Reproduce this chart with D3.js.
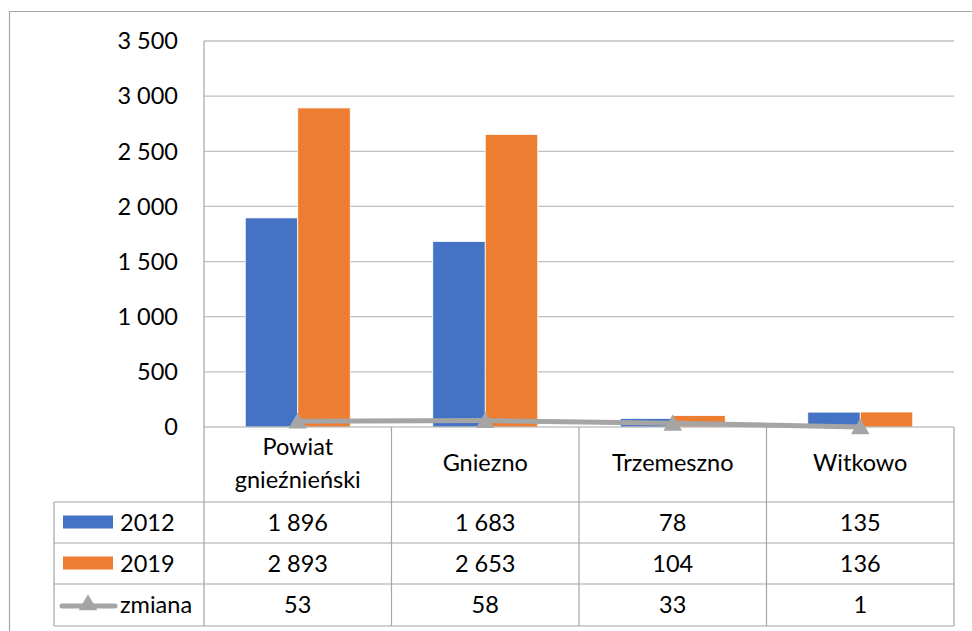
<!DOCTYPE html>
<html><head><meta charset="utf-8">
<script src="https://cdn.jsdelivr.net/npm/d3@7"></script>
<style>body{margin:0;background:#fff}svg{display:block}text{font-family:Lato,"Open Sans",sans-serif;fill:#000}</style>
</head><body>
<svg id="c" width="972" height="631"></svg>
<script>
const categories = ["Powiat gnieźnieński", "Gniezno", "Trzemeszno", "Witkowo"];
const categoryLines = [["Powiat", "gnieźnieński"], ["Gniezno"], ["Trzemeszno"], ["Witkowo"]];
const series2012 = [1896, 1683, 78, 135];
const series2019 = [2893, 2653, 104, 136];
const seriesZmiana = [53, 58, 33, 1];
const seriesNames = ["2012", "2019", "zmiana"];
const yTicks = [0, 500, 1000, 1500, 2000, 2500, 3000, 3500];

const colors = {"2012": "#4472C4", "2019": "#ED7D31", "zmiana": "#A5A5A5"};
const svg = d3.select("#c");
const fs = 23.5;
const X0 = 204, X1 = 954, YT = 41, YB = 427, LEG = 54;
const rowY = [427, 502, 543, 584, 626];
const gridCol = "#BFBFBF", tabCol = "#A6A6A6";

const loc = d3.formatLocale({decimal: ",", thousands: " ", grouping: [3], currency: ["", ""]});
const fmt = loc.format(",d");

// outer frame
svg.append("path").attr("d", `M9.5,640V11.5H980`).attr("fill", "none").attr("stroke", tabCol).attr("stroke-width", 1.2);

const y = d3.scaleLinear().domain([0, 3500]).range([YB, YT]);
const x = d3.scaleBand().domain(categories).range([X0, X1]);
const sub = d3.scaleBand().domain(["2012", "2019"]).range([0, x.bandwidth()]).paddingOuter(0.786);

// gridlines
svg.append("g").selectAll("line").data(yTicks.filter(d => d > 0)).join("line")
  .attr("x1", X0).attr("x2", X1).attr("y1", d => y(d)).attr("y2", d => y(d))
  .attr("stroke", gridCol).attr("stroke-width", 1.3);

// y tick labels
svg.append("g").selectAll("text").data(yTicks).join("text")
  .attr("x", 178).attr("y", d => y(d)).attr("dy", "0.35em").attr("text-anchor", "end")
  .attr("font-size", fs).text(d => fmt(d));

// bars
const barData = [];
categories.forEach((c, i) => {
  barData.push({c, s: "2012", v: series2012[i]});
  barData.push({c, s: "2019", v: series2019[i]});
});
svg.append("g").selectAll("rect").data(barData).join("rect")
  .attr("x", d => x(d.c) + sub(d.s)).attr("width", sub.bandwidth())
  .attr("y", d => y(d.v)).attr("height", d => YB - y(d.v))
  .attr("fill", d => colors[d.s]).attr("stroke", "#fff").attr("stroke-width", 0.8);

// table lines
const tl = svg.append("g").attr("stroke", tabCol).attr("stroke-width", 1.2);
tl.append("line").attr("x1", X0).attr("x2", X0).attr("y1", YT).attr("y2", rowY[4]);
tl.append("line").attr("x1", X0).attr("x2", X1).attr("y1", YB).attr("y2", YB);
rowY.slice(1).forEach(r => tl.append("line").attr("x1", LEG).attr("x2", X1).attr("y1", r).attr("y2", r));
tl.append("line").attr("x1", LEG).attr("x2", LEG).attr("y1", rowY[1]).attr("y2", rowY[4]);
categories.forEach(c => {
  tl.append("line").attr("x1", x(c) + x.bandwidth()).attr("x2", x(c) + x.bandwidth()).attr("y1", YB).attr("y2", rowY[4]);
});

// category labels
categories.forEach((c, i) => {
  const lines = categoryLines[i];
  const cx = x(c) + x.bandwidth() / 2;
  const base = lines.length === 2 ? 455 : 471;
  lines.forEach((t, j) => svg.append("text").attr("x", cx).attr("y", base + j * 33)
    .attr("text-anchor", "middle").attr("font-size", fs).text(t));
});

// value rows
const rows = [series2012, series2019, seriesZmiana];
rows.forEach((vals, r) => {
  const cyc = (rowY[r + 1] + rowY[r + 2]) / 2;
  categories.forEach((c, i) => {
    svg.append("text").attr("x", x(c) + x.bandwidth() / 2).attr("y", cyc).attr("dy", "0.36em")
      .attr("text-anchor", "middle").attr("font-size", fs).text(fmt(vals[i]));
  });
  // legend
  const s = seriesNames[r];
  if (r < 2) {
    svg.append("rect").attr("x", 63).attr("y", cyc - 7).attr("width", 50).attr("height", 13).attr("fill", colors[s]);
  } else {
    svg.append("line").attr("x1", 62).attr("x2", 115).attr("y1", cyc + 1).attr("y2", cyc + 1)
      .attr("stroke", colors[s]).attr("stroke-width", 5).attr("stroke-linecap", "round");
    svg.append("path").attr("d", d3.symbol(d3.symbolTriangle, 150)()).attr("transform", `translate(88,${cyc})`).attr("fill", colors[s]);
  }
  svg.append("text").attr("x", 120).attr("y", cyc).attr("dy", "0.36em").attr("font-size", fs).text(s);
});

// line series
const line = d3.line().x((d, i) => x(categories[i]) + x.bandwidth() / 2).y(d => y(d));
svg.append("path").datum(seriesZmiana).attr("d", line).attr("fill", "none")
  .attr("stroke", colors.zmiana).attr("stroke-width", 5).attr("stroke-linejoin", "round");
svg.append("g").selectAll("path").data(seriesZmiana).join("path")
  .attr("d", d3.symbol(d3.symbolTriangle, 150)())
  .attr("transform", (d, i) => `translate(${x(categories[i]) + x.bandwidth() / 2},${y(d) + 2})`)
  .attr("fill", colors.zmiana);
</script>
</body></html>
